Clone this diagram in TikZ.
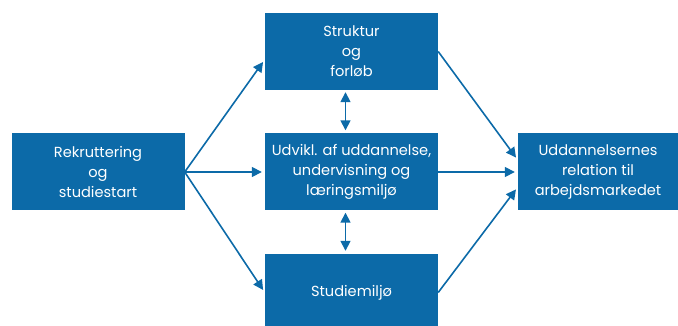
\documentclass[tikz,border=0pt]{standalone}
\usepackage{fontspec}
\setmainfont{Poppins}
\usepackage{tikz}
\usetikzlibrary{arrows.meta}
\definecolor{boxblue}{RGB}{12,106,168}

\begin{document}
\begin{tikzpicture}[x=1pt, y=-1pt, every node/.style={rectangle,fill=boxblue,text=white,align=center,minimum width=173pt,minimum height=77pt,inner sep=2pt,font=\fontsize{14.6}{20}\selectfont}]
	\tikzset{link/.style={draw=boxblue,line width=1.6pt,-{Triangle[length=10pt,width=10pt]}}}
	\useasboundingbox (0,0) rectangle (678,326);
	\clip (0,0) rectangle (678,326);
	\node (rekr)     at (98,172)    {Rekruttering\\og\\studiestart};
	\node (struktur) at (351.5,51.5) {Struktur\\og\\forløb};
	\node (udvikl)   at (351.5,172) {Udvikl. af uddannelse,\\undervisning og\\læringsmiljø};
	\node (studie)   at (351.5,292.5) {Studiemiljø};
	\node[minimum width=160pt] (relation) at (598,172) {Uddannelsernes\\relation til\\arbejdsmarkedet};
	\foreach \from/\to/\dy in {
		rekr/struktur/-8,
		rekr/udvikl/0,
		rekr/studie/0,
		struktur/relation/12,
		udvikl/relation/0,
		studie/relation/-15}
	\draw[link,shorten >=3pt] (\from.east) -- ([yshift=\dy pt]\to.west);
	\foreach \from/\to in {
		struktur/udvikl,
		udvikl/studie}
	\draw[link,{Triangle[length=10pt,width=10pt]}-{Triangle[length=10pt,width=10pt]},shorten >=3pt,shorten <=2pt] ([xshift=-6pt]\from.south) -- ([xshift=-6pt]\to.north);
\end{tikzpicture}
\end{document}
